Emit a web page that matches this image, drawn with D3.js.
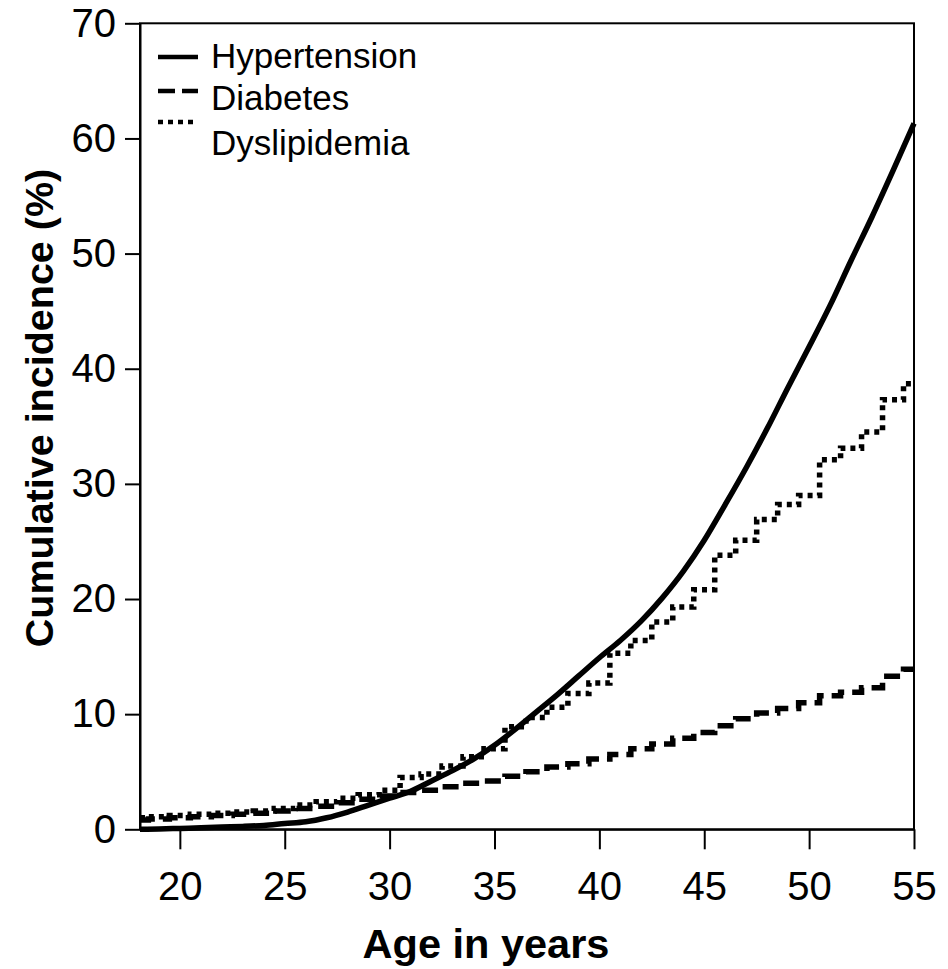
<!DOCTYPE html>
<html>
<head>
<meta charset="utf-8">
<script src="https://cdn.jsdelivr.net/npm/d3@7"></script>
<style>
  html, body { margin: 0; padding: 0; background: #fff; }
  svg { display: block; }
  text { font-family: "Liberation Sans", Arial, sans-serif; fill: #000; }
</style>
</head>
<body>
<svg id="chart" width="948" height="969"></svg>
<script>
// Cumulative incidence by age (percent)
const hypertensionAge = [18.1, 19, 20, 21, 22, 23, 24, 25, 26, 27, 28, 29, 30, 31, 32, 33, 34, 35, 36, 37,
  38, 39, 40, 41, 42, 43, 44, 45, 46, 47, 48, 49, 50, 51, 52, 53, 54, 55];
const hypertension = [0.0, 0.03, 0.08, 0.13, 0.19, 0.25, 0.34, 0.5, 0.65, 1.0, 1.5, 2.1, 2.7, 3.3, 4.2, 5.1, 6.1, 7.3, 8.7, 10.2,
  11.7, 13.3, 14.9, 16.4, 18.1, 20.1, 22.4, 25.1, 28.2, 31.4, 34.8, 38.4, 41.9, 45.5, 49.4, 53.2, 57.2, 61.3];

// Step curves: value holds from each age until the next one
const stepAge = [18.1, 18.5, 19.5, 20.5, 21.5, 22.5, 23.5, 24.5, 25.5, 26.5, 27.5, 28.5, 29.5, 30.5, 31.5, 32.5,
  33.5, 34.5, 35.5, 36.5, 37.5, 38.5, 39.5, 40.5, 41.5, 42.5, 43.5, 44.5, 45.5, 46.5, 47.5, 48.5, 49.5, 50.5,
  51.5, 52.5, 53.5, 54.5, 55];
const diabetes = [0.8, 0.9, 1.0, 1.1, 1.2, 1.3, 1.4, 1.6, 1.8, 2.0, 2.3, 2.6, 2.9, 3.2, 3.4, 3.7,
  4.0, 4.2, 4.6, 5.0, 5.4, 5.7, 6.1, 6.5, 7.0, 7.4, 7.9, 8.4, 9.0, 9.6, 10.1, 10.5, 11.0, 11.6,
  11.9, 12.3, 13.3, 13.9, 13.9];
const dyslipidemia = [1.0, 1.1, 1.2, 1.3, 1.4, 1.5, 1.6, 1.8, 2.1, 2.4, 2.7, 3.0, 3.4, 4.5, 4.8, 5.5,
  6.3, 7.0, 8.9, 9.7, 10.6, 11.8, 12.7, 15.3, 16.4, 18.0, 19.3, 20.8, 23.8, 25.1, 26.9, 28.2, 29.0, 32.1,
  33.1, 34.5, 37.3, 38.7, 38.7];

const xTicks = [20, 25, 30, 35, 40, 45, 50, 55];
const yTicks = [0, 10, 20, 30, 40, 50, 60, 70];
const seriesNames = ["Hypertension", "Diabetes", "Dyslipidemia"];

const svg = d3.select("#chart");
const plotLeft = 140, plotRight = 914, plotTop = 23.3, plotBottom = 829.3;

const x = d3.scaleLinear().domain([18.1, 55]).range([plotLeft, plotRight]);
const y = d3.scaleLinear().domain([0, 70]).range([plotBottom, plotTop]);

// Plot frame
svg.append("rect")
  .attr("x", plotLeft).attr("y", plotTop)
  .attr("width", plotRight - plotLeft).attr("height", plotBottom - plotTop)
  .attr("fill", "none").attr("stroke", "#000").attr("stroke-width", 2);

// X axis
const xAxis = svg.append("g")
  .attr("transform", `translate(0,${plotBottom})`)
  .call(d3.axisBottom(x).tickValues(xTicks).tickSize(20).tickSizeOuter(0).tickPadding(22));
xAxis.select(".domain").attr("stroke-width", 2);
xAxis.selectAll(".tick line").attr("stroke-width", 2);
xAxis.selectAll(".tick text")
  .attr("font-size", 40).attr("font-family", "Liberation Sans, Arial, sans-serif").attr("fill", "#000");

// Y axis
const yAxis = svg.append("g")
  .attr("transform", `translate(${plotLeft},0)`)
  .call(d3.axisLeft(y).tickValues(yTicks).tickSize(15).tickSizeOuter(0).tickPadding(9));
yAxis.select(".domain").attr("stroke-width", 2);
yAxis.selectAll(".tick line").attr("stroke-width", 2);
yAxis.selectAll(".tick text")
  .attr("font-size", 40).attr("font-family", "Liberation Sans, Arial, sans-serif").attr("fill", "#000");

// Axis titles
svg.append("text")
  .attr("x", 486).attr("y", 958)
  .attr("text-anchor", "middle")
  .attr("font-size", 41.5).attr("font-weight", "bold")
  .text("Age in years");

svg.append("text")
  .attr("transform", "translate(53,408) rotate(-90)")
  .attr("text-anchor", "middle")
  .attr("font-size", 39.5).attr("font-weight", "bold")
  .text("Cumulative incidence (%)");

// Curves
const plot = svg.append("g");

const smoothLine = d3.line()
  .x((d, i) => x(hypertensionAge[i]))
  .y(d => y(d))
  .curve(d3.curveMonotoneX);

const stepLine = d3.line()
  .x((d, i) => x(stepAge[i]))
  .y(d => y(d))
  .curve(d3.curveStepAfter);

plot.append("path")
  .datum(diabetes)
  .attr("d", stepLine)
  .attr("fill", "none").attr("stroke", "#000").attr("stroke-width", 5.5)
  .attr("stroke-dasharray", "16,8");

plot.append("path")
  .datum(dyslipidemia)
  .attr("d", stepLine)
  .attr("fill", "none").attr("stroke", "#000").attr("stroke-width", 5.5)
  .attr("stroke-dasharray", "5,5");

plot.append("path")
  .datum(hypertension)
  .attr("d", smoothLine)
  .attr("fill", "none").attr("stroke", "#000").attr("stroke-width", 5.5)
  .attr("stroke-linejoin", "round");

// Legend
const legendLines = [
  { y: 57, dash: null },
  { y: 91, dash: "17,7" },
  { y: 122, dash: "5,5" }
];
const legendTextY = [68, 110, 155];
const legend = svg.append("g");
seriesNames.forEach((name, i) => {
  legend.append("line")
    .attr("x1", 158).attr("x2", 198)
    .attr("y1", legendLines[i].y).attr("y2", legendLines[i].y)
    .attr("stroke", "#000").attr("stroke-width", 4.5)
    .attr("stroke-dasharray", legendLines[i].dash);
  legend.append("text")
    .attr("x", 211).attr("y", legendTextY[i])
    .attr("font-size", 35)
    .text(name);
});
</script>
</body>
</html>
